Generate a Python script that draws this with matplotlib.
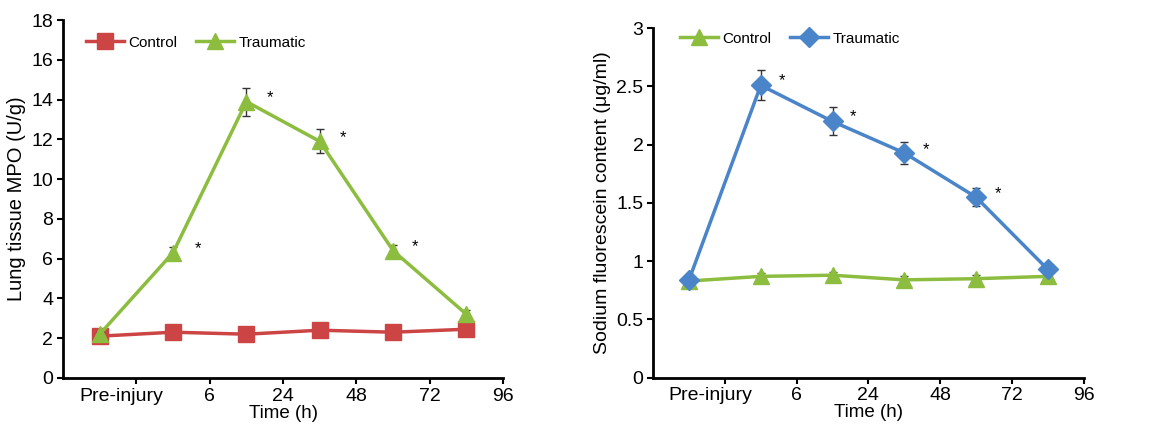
import matplotlib
matplotlib.use('Agg')
import matplotlib.pyplot as plt
import matplotlib.transforms as mtransforms

plt.rcParams['font.family'] = ['Liberation Sans', 'DejaVu Sans']

# Shared x layout: points sit between the labelled ticks
x_pts = [0.5, 1.5, 2.5, 3.5, 4.5, 5.5]
tick_pos = [1, 2, 3, 4, 5, 6]
tick_labels = ["Pre-injury", "6", "24", "48", "72", "96"]

# Left panel: lung tissue MPO
mpo_control = [2.1, 2.3, 2.2, 2.4, 2.3, 2.45]
mpo_control_err = [0.1, 0.1, 0.1, 0.1, 0.1, 0.1]
mpo_trauma = [2.2, 6.3, 13.9, 11.9, 6.4, 3.2]
mpo_trauma_err = [0.1, 0.3, 0.7, 0.6, 0.3, 0.2]
mpo_star_x = [1.84, 2.82, 3.81, 4.8]
mpo_star_y = [6.5, 14.1, 12.1, 6.6]

# Right panel: sodium fluorescein
sf_control = [0.83, 0.87, 0.88, 0.84, 0.85, 0.87]
sf_control_err = [0.03, 0.03, 0.03, 0.03, 0.03, 0.03]
sf_trauma = [0.84, 2.51, 2.20, 1.93, 1.55, 0.93]
sf_trauma_err = [0.02, 0.13, 0.12, 0.095, 0.08, 0.03]
sf_star_x = [1.80, 2.79, 3.80, 4.81]
sf_star_y = [2.55, 2.24, 1.96, 1.58]

red = '#cc4444'
green = '#8cbd3f'
blue = '#4a85c9'

fig = plt.figure(figsize=(11.54, 4.28), dpi=100)
ax1 = fig.add_axes([0.0546, 0.117, 0.3814, 0.836])
ax2 = fig.add_axes([0.566, 0.1175, 0.373, 0.8165])


def style_axis(ax):
    for s in ['top', 'right']:
        ax.spines[s].set_visible(False)
    for s in ['left', 'bottom']:
        ax.spines[s].set_linewidth(2)
    ax.set_xlim(0, 6)
    ax.set_xticks(tick_pos)
    ax.set_xticklabels(tick_labels)
    ax.tick_params(axis='both', labelsize=14, width=1.5, length=4, pad=3)
    # "Pre-injury" sits a little left of its tick in the original
    lab = ax.get_xticklabels()[0]
    lab.set_transform(lab.get_transform() +
                      mtransforms.ScaledTranslation(-0.15, 0, fig.dpi_scale_trans))
    ax.set_xlabel("Time (h)", fontsize=13.5, labelpad=0)


def series(ax, y, err, color, marker, ms, label, z):
    ax.errorbar(x_pts, y, yerr=err, fmt='none', ecolor='#333333',
                elinewidth=1, capsize=3, zorder=z)
    ax.plot(x_pts, y, color=color, lw=2.5, marker=marker, ms=ms,
            label=label, zorder=z)


# left
series(ax1, mpo_control, mpo_control_err, red, 's', 12, 'Control', 3)
series(ax1, mpo_trauma, mpo_trauma_err, green, '^', 12, 'Traumatic', 4)
for sx, sy in zip(mpo_star_x, mpo_star_y):
    ax1.text(sx, sy, '*', fontsize=12, ha='center', va='center')
style_axis(ax1)
ax1.set_ylim(0, 18)
ax1.set_yticks(range(0, 19, 2))
ax1.set_ylabel("Lung tissue MPO (U/g)", fontsize=14.5, labelpad=4)
ax1.legend(loc='upper left', ncol=2, frameon=False, fontsize=11,
           bbox_to_anchor=(0.02, 0.995), handlelength=2.5, handletextpad=0.3,
           columnspacing=1.2)

# right
series(ax2, sf_control, sf_control_err, green, '^', 12, 'Control', 3)
series(ax2, sf_trauma, sf_trauma_err, blue, 'D', 10, 'Traumatic', 4)
for sx, sy in zip(sf_star_x, sf_star_y):
    ax2.text(sx, sy, '*', fontsize=12, ha='center', va='center')
style_axis(ax2)
ax2.set_ylim(0, 3)
ax2.set_yticks([0, 0.5, 1, 1.5, 2, 2.5, 3])
ax2.set_yticklabels(["0", "0.5", "1", "1.5", "2", "2.5", "3"])
ax2.set_ylabel("Sodium fluorescein content (\u03bcg/ml)", fontsize=14, labelpad=4)
ax2.legend(loc='upper left', ncol=2, frameon=False, fontsize=11,
           bbox_to_anchor=(0.03, 1.03), handlelength=2.5, handletextpad=0.3,
           columnspacing=1.2)

fig.savefig('out.png', dpi=100)
